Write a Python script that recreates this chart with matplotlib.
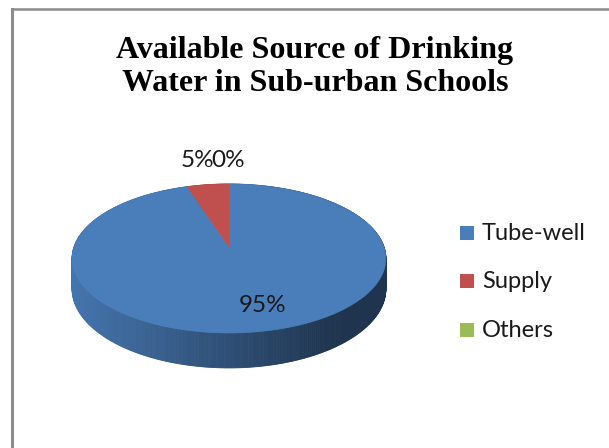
import numpy as np
import matplotlib.pyplot as plt
from matplotlib.patches import Polygon, Rectangle
from matplotlib.lines import Line2D
from matplotlib.colors import to_rgb

# drinking water sources, share of schools (%)
sources = ['Tube-well', 'Supply', 'Others']
shares = [95, 5, 0]
colors = ['#4A7EBB', '#C0504D', '#9BBB59']

title_lines = ['Available Source of Drinking', 'Water in Sub-urban Schools']

W, H = 609, 448
fig = plt.figure(figsize=(W / 100, H / 100), dpi=100)
ax = fig.add_axes([0, 0, 1, 1])
ax.set_xlim(0, W)
ax.set_ylim(H, 0)
ax.axis('off')

# chart frame (left and top edges)
fig.add_artist(Line2D([11.5 / W, 11.5 / W], [0, 1 - 9 / H], color='#8c8c8c', lw=2.2))
fig.add_artist(Line2D([11.5 / W, 1], [1 - 9 / H, 1 - 9 / H], color='#8c8c8c', lw=1.8))

# 3d pie geometry: disc seen from above with a little perspective
cx, cy = 229, 247
rx, ry = 155, 72.7
persp = 0.154
drop = 29.6


def project(X, Z, d=0.0):
    w = 1.0 / (1.0 - persp * Z)
    return cx + rx * X * w, cy + (ry * Z + d) * w


def rim(theta, d=0.0):
    # theta measured clockwise from 12 o'clock
    return project(np.sin(theta), -np.cos(theta), d)


total = float(sum(shares))
bounds = np.concatenate([[0], np.cumsum(shares) / total * 2 * np.pi])


def slice_of(theta):
    return min(np.searchsorted(bounds, theta, side='right') - 1, len(shares) - 1)


# side wall, shaded left to right
n = 720
ts = np.linspace(0, 2 * np.pi, n + 1)
x_left, x_right = 72, 330
for t0, t1 in zip(ts[:-1], ts[1:]):
    px0, py0 = rim(t0)
    px1, py1 = rim(t1)
    qx0, qy0 = rim(t0, drop)
    qx1, qy1 = rim(t1, drop)
    xm = (px0 + px1) / 2
    f = np.clip((xm - x_left) / (x_right - x_left), 0, 1)
    shade = 0.93 - 0.51 * f
    base = np.array(to_rgb(colors[slice_of((t0 + t1) / 2)]))
    c = tuple(base * shade)
    ax.add_patch(Polygon([(px0, py0), (px1, py1), (qx1, qy1), (qx0, qy0)],
                         closed=True, facecolor=c, edgecolor=c, lw=0.6))

# top face slices
for i, v in enumerate(shares):
    if v <= 0:
        continue
    th = np.linspace(bounds[i], bounds[i + 1], 300)
    xs, ys = rim(th)
    pts = [(cx, cy)] + list(zip(xs, ys))
    ax.add_patch(Polygon(pts, closed=True, facecolor=colors[i],
                         edgecolor=colors[i], lw=0.5))

# data labels
label_font = dict(family=['Lato', 'DejaVu Sans'], fontsize=17.5, color='#1a1a1a')
label_pos = [(263, 312), (197, 167), (228, 167)]
for v, (lx, ly) in zip(shares, label_pos):
    ax.text(lx, ly, f'{v}%', ha='center', va='baseline', **label_font)

# title
for k, line in enumerate(title_lines):
    ax.text(315, 58 + 33 * k, line, ha='center', va='baseline',
            family=['Liberation Serif', 'DejaVu Serif'], fontweight='bold',
            fontsize=23, color='black')

# legend
legend_base = [240, 288, 337]
for name, col, by in zip(sources, colors, legend_base):
    ax.add_patch(Rectangle((460, by - 14), 14, 14, facecolor=col, edgecolor='none'))
    ax.text(482, by, name, ha='left', va='baseline',
            family=['Lato', 'DejaVu Sans'], fontsize=17, color='#1a1a1a')

fig.savefig('out.png', dpi=100)
